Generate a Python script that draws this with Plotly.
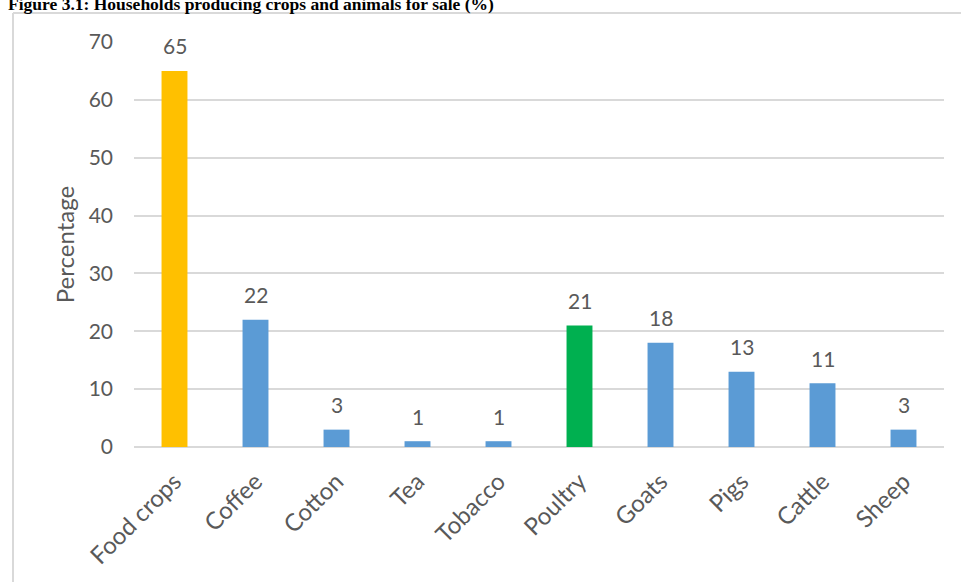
import plotly.graph_objects as go

# Share of households selling each product (%)
categories = ["Food crops", "Coffee", "Cotton", "Tea", "Tobacco",
              "Poultry", "Goats", "Pigs", "Cattle", "Sheep"]
values = [65, 22, 3, 1, 1, 21, 18, 13, 11, 3]
bar_colors = ["#FFC000", "#5B9BD5", "#5B9BD5", "#5B9BD5", "#5B9BD5",
              "#00B050", "#5B9BD5", "#5B9BD5", "#5B9BD5", "#5B9BD5"]
y_ticks = [0, 10, 20, 30, 40, 50, 60, 70]

W, H = 961, 582
L, R, T, B = 134, 17, 42, 135
pw, ph = W - L - R, H - T - B

def px_x(x):
    return (x - L) / pw

def px_y(y):
    return (H - B - y) / ph

FONT = "Lato, Open Sans, sans-serif"
GREY = "#595959"

fig = go.Figure(go.Bar(
    x=categories, y=values,
    marker=dict(color=bar_colors, line=dict(width=0)),
    width=0.32,
    cliponaxis=False,
))

# value labels sitting above each bar
value_labels = [
    dict(x=c, y=v, text=str(v), xref="x", yref="y",
         showarrow=False, yanchor="middle", yshift=25,
         font=dict(family=FONT, size=21, color=GREY))
    for c, v in zip(categories, values)
]

fig.update_layout(
    width=W, height=H,
    margin=dict(l=L, r=R, t=T, b=B, pad=0),
    paper_bgcolor="white", plot_bgcolor="white",
    showlegend=False,
    font=dict(family=FONT, size=21, color=GREY),
    xaxis=dict(
        tickangle=-45,
        tickfont=dict(family=FONT, size=24, color=GREY),
        showgrid=False, showline=False,
        ticks="outside", ticklen=10, tickcolor="rgba(0,0,0,0)",
        range=[-0.5, 9.5],
    ),
    yaxis=dict(
        range=[0, 70], tickvals=y_ticks,
        tickfont=dict(family=FONT, size=21, color=GREY),
        showgrid=True, gridcolor="#D9D9D9", gridwidth=1.5,
        zeroline=True, zerolinecolor="#D9D9D9", zerolinewidth=2,
        showline=False, ticks="", ticklabelstandoff=20,
        title=dict(text="Percentage", font=dict(family=FONT, size=24, color=GREY),
                   standoff=7),
    ),
    shapes=[
        dict(type="line", xref="paper", yref="paper",
             x0=px_x(13), x1=px_x(W + 5), y0=px_y(13), y1=px_y(13),
             line=dict(color="#D9D9D9", width=2)),
        dict(type="line", xref="paper", yref="paper",
             x0=px_x(13), x1=px_x(13), y0=px_y(13), y1=px_y(H + 5),
             line=dict(color="#D9D9D9", width=2)),
    ],
    annotations=value_labels + [
        dict(text="<b>Figure 3.1: Households producing crops and animals for sale (%)</b>",
             xref="paper", yref="paper", x=px_x(6), y=px_y(15.5),
             xanchor="left", yanchor="bottom", showarrow=False,
             font=dict(family="Liberation Serif, Times New Roman, serif",
                       size=17.5, color="black")),
    ],
)

fig.write_html("out.html")
